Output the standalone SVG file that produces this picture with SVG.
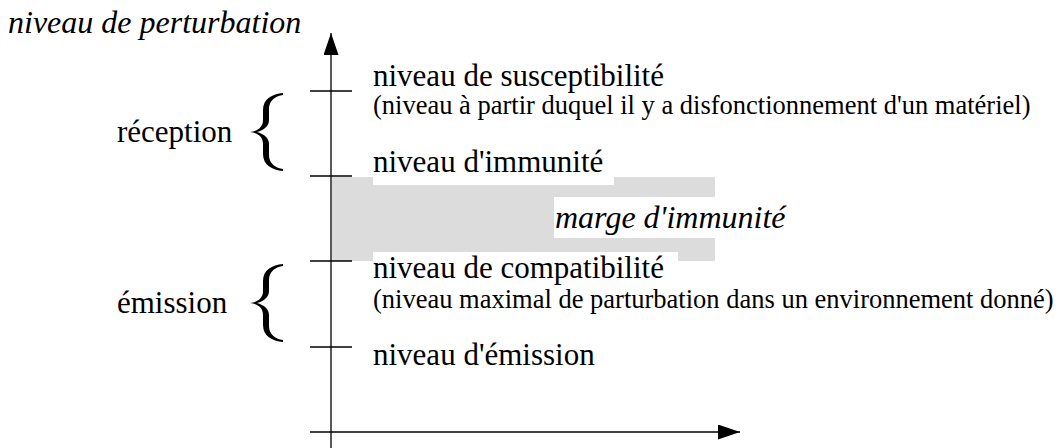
<svg xmlns="http://www.w3.org/2000/svg" width="1063" height="448" viewBox="0 0 1063 448">
<style>
.t{font-family:"Liberation Serif","Times New Roman",serif;font-size:31px;fill:#000}
.s{font-family:"Liberation Serif","Times New Roman",serif;font-size:26.5px;fill:#000}
.i{font-style:italic;font-size:32px}
.ax{stroke:#000;stroke-width:1.3;fill:none}
.tk{stroke:#000;stroke-width:1.3}
.br{fill:#000}
</style>
<defs>
<marker id="ah" markerWidth="24" markerHeight="16" refX="22" refY="7.5" orient="auto" markerUnits="userSpaceOnUse">
<path d="M0,0 L22,7.5 L0,15 Z" fill="#000"/>
</marker>
</defs>
<rect width="1063" height="448" fill="#fff"/>
<g id="marge">
<rect x="332" y="177" width="383" height="84" fill="#dcdcdc"/>
<rect x="373" y="177" width="241" height="8" fill="#fff"/>
<rect x="554" y="197" width="232" height="41" fill="#fff"/>
<rect x="373" y="252" width="305" height="9" fill="#fff"/>
<text class="t i" x="555" y="228">marge d'immunité</text>
</g>
<g id="connectors">
<line class="ax" x1="331" y1="448" x2="331" y2="33" marker-end="url(#ah)"/>
<line class="ax" x1="310" y1="432" x2="740" y2="432" marker-end="url(#ah)"/>
<line class="tk" x1="310" y1="91" x2="352" y2="91"/>
<line class="tk" x1="310" y1="176" x2="352" y2="176"/>
<line class="tk" x1="310" y1="261" x2="352" y2="261"/>
<line class="tk" x1="310" y1="347" x2="352" y2="347"/>
</g>
<g id="axis-label">
<text class="t i" x="8" y="33">niveau de perturbation</text>
</g>
<g id="susceptibilite">
<text class="t" x="373" y="86">niveau de susceptibilité</text>
<text class="s" x="373" y="114">(niveau à partir duquel il y a disfonctionnement d'un matériel)</text>
</g>
<g id="immunite">
<text class="t" x="373" y="172">niveau d'immunité</text>
</g>
<g id="compatibilite">
<text class="t" x="373" y="278">niveau de compatibilité</text>
<text class="s" x="373" y="308">(niveau maximal de parturbation dans un environnement donné)</text>
</g>
<g id="emission-level">
<text class="t" x="373" y="365">niveau d'émission</text>
</g>
<g id="reception">
<text class="t" x="117" y="142">réception</text>
<path class="br" d="M283 93 C272 94,263 99,263 110 L263 120 C263 127,258 131,250 132 C258 133,263 137,263 144 L263 154 C263 165,272 170,283 171 L283 169 C276 168,269 164,269 155 L269 144 C269 138,264 134,257 132 C264 130,269 126,269 120 L269 109 C269 100,276 96,283 95 Z"/>
</g>
<g id="emission">
<text class="t" x="117" y="313">émission</text>
<path class="br" d="M283 264 C272 265,263 270,263 281 L263 291 C263 298,258 302,250 303 C258 304,263 308,263 315 L263 325 C263 336,272 341,283 342 L283 340 C276 339,269 335,269 326 L269 315 C269 309,264 305,257 303 C264 301,269 297,269 291 L269 280 C269 271,276 267,283 266 Z"/>
</g>
</svg>
